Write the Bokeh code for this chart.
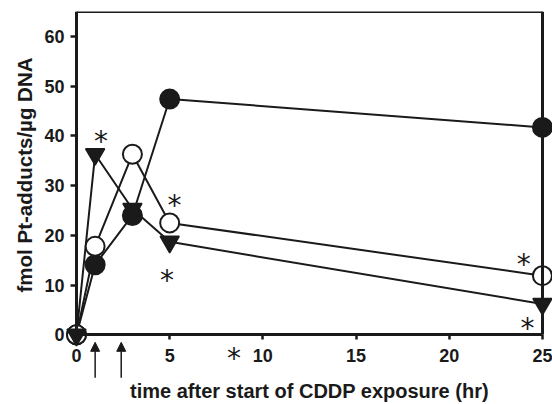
from bokeh.plotting import figure
from bokeh.models import Range1d, LinearAxis, FixedTicker, Arrow, NormalHead, Title
from bokeh.embed import file_html
from bokeh.resources import INLINE
from bokeh.core.properties import value

# ---- data ----
time_hr = [0, 1, 3, 5, 25]
filled_circle = [0, 14.1, 24.0, 47.4, 41.7]
open_circle = [0, 17.8, 36.3, 22.5, 11.9]
inv_triangle = [0, 36.3, 25.3, 18.7, 6.2]

# significance asterisks
ast_x = [1.32, 5.26, 4.85, 8.45, 24.0, 24.2]
ast_y = [39.7, 26.9, 11.7, -4.0, 15.0, 2.1]

# CDDP exposure arrows (hr)
arrow_x = [1.0, 2.4]

x_ticks = [0, 5, 10, 15, 20, 25]
y_ticks = [0, 10, 20, 30, 40, 50, 60]
x_label = "time after start of CDDP exposure (hr)"
y_label = "fmol Pt-adducts/\u00b5g DNA"

X_MAX = 25
Y_MAX = 65
ARROW_TIP = -1.5
ARROW_TAIL = -8.6

INK = "#1a1a1a"
FONT = "Liberation Sans"

p = figure(width=552, height=404,
           x_range=Range1d(-0.59, 25.54), y_range=Range1d(-14.0, 65),
           output_backend="svg", toolbar_location=None,
           x_axis_location=None, y_axis_location=None,
           min_border_left=65, min_border_right=0,
           min_border_top=11, min_border_bottom=0)
p.outline_line_color = None
p.xgrid.visible = False
p.ygrid.visible = False
p.background_fill_color = "white"
p.border_fill_color = "white"


def style_axis(ax, tick_out, standoff, label_standoff):
    ax.axis_line_color = INK
    ax.axis_line_width = 3
    ax.major_tick_line_color = INK
    ax.major_tick_line_width = 2.5
    ax.major_tick_in = 0
    ax.major_tick_out = tick_out
    ax.minor_tick_line_color = None
    ax.major_label_text_font = FONT
    ax.major_label_text_font_style = "bold"
    ax.major_label_text_font_size = "18px"
    ax.major_label_text_color = INK
    ax.major_label_standoff = standoff
    ax.axis_label_text_font = FONT
    ax.axis_label_text_font_style = "bold"
    ax.axis_label_text_font_size = "20px"
    ax.axis_label_text_color = INK
    ax.axis_label_standoff = label_standoff


# x axis through y = 0 (line, ticks, labels, title)
xaxis = LinearAxis(fixed_location=0, bounds=(0, X_MAX),
                   ticker=FixedTicker(ticks=x_ticks), axis_label=x_label)
style_axis(xaxis, 5, 9, 15)
p.add_layout(xaxis, "below")

# y axis line and ticks through x = 0 (labels come from the axis below)
yline = LinearAxis(fixed_location=0, bounds=(0, Y_MAX),
                   ticker=FixedTicker(ticks=y_ticks))
style_axis(yline, 6, 6, 7)
yline.major_label_text_color = None
p.add_layout(yline, "left")

# y tick labels (frame-edge axis, no line)
ylab = LinearAxis(bounds=(0, Y_MAX), ticker=FixedTicker(ticks=y_ticks))
style_axis(ylab, 0, 1, 7)
ylab.axis_line_color = None
ylab.major_tick_line_color = None
p.add_layout(ylab, "left")

# y axis title
p.add_layout(Title(text=y_label, align="left", offset=112, standoff=11,
                   text_font=FONT, text_font_style="bold", text_font_size="20.5px",
                   text_color=INK), "left")

# top and right frame lines
top = LinearAxis(fixed_location=Y_MAX, bounds=(0, X_MAX), ticker=FixedTicker(ticks=[]))
style_axis(top, 0, 0, 0)
top.major_label_text_color = None
p.add_layout(top, "above")

right = LinearAxis(fixed_location=X_MAX, bounds=(0, Y_MAX), ticker=FixedTicker(ticks=[]))
style_axis(right, 0, 0, 0)
right.major_label_text_color = None
p.add_layout(right, "right")

# lines
for ys in (filled_circle, open_circle, inv_triangle):
    p.line(time_hr, ys, line_color=INK, line_width=2)

# markers
p.scatter(time_hr, filled_circle, marker="circle", size=19,
          fill_color=INK, line_color=INK, line_width=2)
p.scatter(time_hr, open_circle, marker="circle", size=19,
          fill_color="white", line_color=INK, line_width=2)
p.scatter(time_hr, inv_triangle, marker="inverted_triangle", size=19,
          fill_color=INK, line_color=INK, line_width=1.5)

# asterisks
p.text(ast_x, ast_y, text=["*"] * len(ast_x), text_font=value("DejaVu Sans"),
       text_font_size="28px", text_align="center",
       text_baseline="middle", y_offset=4, text_color=INK)

# arrows
for ax in arrow_x:
    p.add_layout(Arrow(end=NormalHead(size=9, fill_color=INK, line_color=INK),
                       x_start=ax, y_start=ARROW_TAIL, x_end=ax, y_end=ARROW_TIP,
                       line_width=1.5, line_color=INK))

open("out.html", "w").write(file_html(p, INLINE))
